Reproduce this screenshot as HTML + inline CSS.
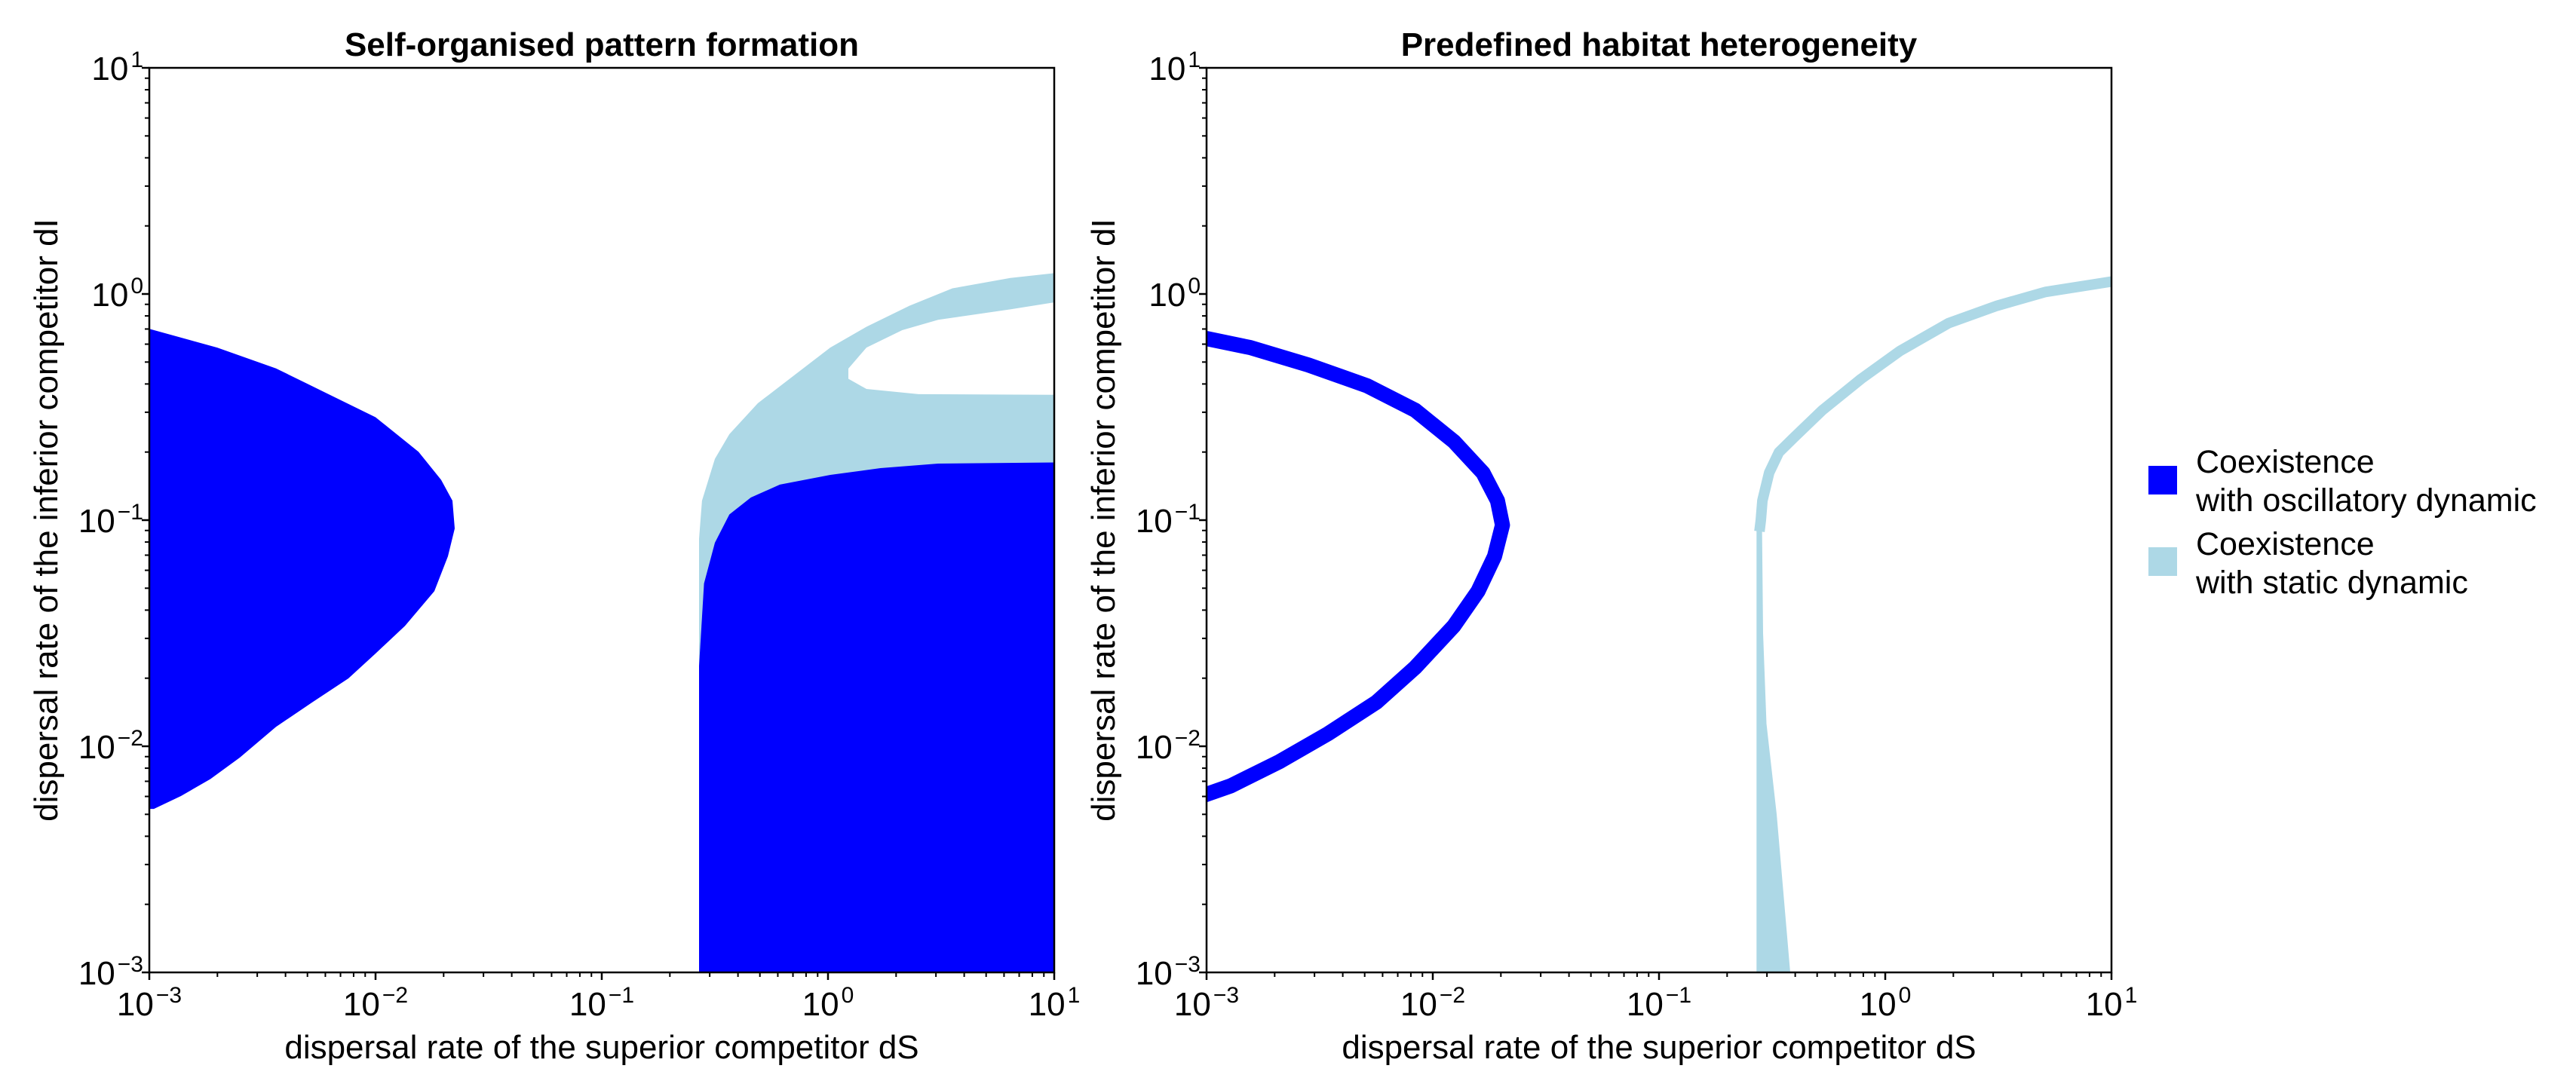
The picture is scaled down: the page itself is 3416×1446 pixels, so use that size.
<!DOCTYPE html>
<html><head><meta charset="utf-8">
<style>
html,body{margin:0;padding:0;background:#fff;}
svg{display:block;font-family:"Liberation Sans",Arial,sans-serif;}
</style></head>
<body>
<svg id="fig" width="3416" height="1446" viewBox="0 0 3416 1446" xmlns="http://www.w3.org/2000/svg">
<defs>
<clipPath id="clip1"><rect x="198" y="90" width="1200" height="1200"/></clipPath>
<clipPath id="clip2"><rect x="1600" y="90" width="1200" height="1200"/></clipPath>
</defs>
<g id="p1"></g>
<g id="p2"></g>
<g id="legend">
  <rect x="2849" y="618" width="38" height="38" fill="#0000ff"/>
  <text x="2912" y="627" font-size="43">Coexistence</text>
  <text x="2912" y="678" font-size="43">with oscillatory dynamic</text>
  <rect x="2849" y="726" width="38" height="38" fill="#add8e6"/>
  <text x="2912" y="736" font-size="43">Coexistence</text>
  <text x="2912" y="787" font-size="43">with static dynamic</text>
</g>
</svg>
<script>
// ---- data (log10 values) ----
const tickExps = [-3,-2,-1,0,1];
// Panel 1: oscillatory region (left lobe) boundary: log dS, log dI
const lobeDS = [-3,-2.70,-2.44,-2.22,-2.00,-1.81,-1.71,-1.66,-1.65,-1.68,-1.74,-1.87,-2.00,-2.12,-2.28,-2.44,-2.60,-2.73,-2.86,-2.98,-3];
const lobeDI = [-0.154,-0.237,-0.329,-0.437,-0.545,-0.698,-0.822,-0.914,-1.037,-1.16,-1.314,-1.468,-1.59,-1.70,-1.806,-1.914,-2.05,-2.145,-2.22,-2.277,-2.277];
// Panel 1: oscillatory right region top boundary
const rightDS = [-0.57,-0.548,-0.50,-0.436,-0.341,-0.213,0.01,0.232,0.487,1.0];
const rightDI = [-1.646,-1.28,-1.10,-0.975,-0.90,-0.843,-0.80,-0.77,-0.75,-0.745];
// Panel 1: static region outer boundary
const staticDS = [-0.57,-0.57,-0.557,-0.50,-0.436,-0.31,-0.15,0.01,0.17,0.36,0.55,0.806,1.0];
const staticDI = [-1.7,-1.083,-0.914,-0.729,-0.62,-0.483,-0.36,-0.237,-0.145,-0.052,0.025,0.071,0.092];
// Panel 1: hole inside static region
const holeDS = [1.0,0.806,0.487,0.328,0.17,0.09,0.09,0.17,0.40,1.0];
const holeDI = [-0.037,-0.068,-0.114,-0.16,-0.237,-0.33,-0.375,-0.42,-0.443,-0.446];
// Panel 2: oscillatory ring centre line
const ringDS = [-3.05,-3,-2.807,-2.55,-2.29,-2.078,-1.907,-1.778,-1.714,-1.692,-1.727,-1.80,-1.907,-2.078,-2.25,-2.464,-2.678,-2.893,-3.05];
const ringDI = [-0.19,-0.197,-0.237,-0.314,-0.406,-0.514,-0.652,-0.791,-0.914,-1.022,-1.16,-1.314,-1.468,-1.652,-1.806,-1.945,-2.068,-2.175,-2.23];
// Panel 2: static curve centre line
const curveDS = [-0.556,-0.55,-0.543,-0.513,-0.47,-0.406,-0.278,-0.106,0.065,0.28,0.494,0.708,1.0,1.05];
const curveDI = [-1.05,-1.0,-0.914,-0.79,-0.70,-0.637,-0.514,-0.375,-0.252,-0.129,-0.052,0.009,0.055,0.058];
// Panel 2: static spike
const spikeDS = [-0.569,-0.569,-0.545,-0.54,-0.525,-0.48,-0.42];
const spikeDI = [-3,-1.0,-1.0,-1.5,-1.9,-2.3,-3];

const NS="http://www.w3.org/2000/svg";
function mk(tag,attrs,parent){const e=document.createElementNS(NS,tag);for(const k in attrs)e.setAttribute(k,attrs[k]);parent.appendChild(e);return e;}
function axes(x0){
  const sx=v=>x0+(v+3)*300;
  const sy=v=>1290-(v+3)*300;
  return {sx,sy};
}
function pts(xs,ys,ax){return xs.map((v,i)=>ax.sx(v).toFixed(1)+','+ax.sy(ys[i]).toFixed(1)).join(' ');}

function frame(g,x0,title){
  const ax=axes(x0);
  const cx=x0+600;
  const t=mk('text',{x:cx,y:74,'font-size':44,'font-weight':'bold','text-anchor':'middle'},g);
  
  
  t.textContent=title;
  const xl=mk('text',{x:cx,y:1404,'font-size':44,'text-anchor':'middle'},g);
  
  
  xl.textContent='dispersal rate of the superior competitor dS';
  const yl=mk('text',{x:0,y:0,'font-size':44,'text-anchor':'middle',transform:`translate(${x0-122},690) rotate(-90)`},g);
  
  
  yl.textContent='dispersal rate of the inferior competitor dI';
  const box=mk('rect',{x:x0,y:90,width:1200,height:1200,fill:'none',stroke:'#000','stroke-width':2.5},g);
  
  
  tickExps.forEach(e=>{
    const X=ax.sx(e),Y=ax.sy(e);
    const tx=mk('line',{x1:X,y1:1290,x2:X,y2:1300,stroke:'#000','stroke-width':2.5},g);
    
    
    const ty=mk('line',{x1:x0-10,y1:Y,x2:x0,y2:Y,stroke:'#000','stroke-width':2.5},g);
    
    
    const lx=mk('text',{x:X,y:1347,'font-size':44,'text-anchor':'middle'},g);
    
    
    lx.innerHTML='10<tspan font-size="30" dx="3" dy="-17">'+(e<0?'\u2212'+(-e):e)+'</tspan>';
    const ly=mk('text',{x:x0-8,y:Y+16,'font-size':44,'text-anchor':'end'},g);
    
    
    ly.innerHTML='10<tspan font-size="30" dx="3" dy="-17">'+(e<0?'\u2212'+(-e):e)+'</tspan>';
    if(e<1){for(let m=2;m<=9;m++){
      const v=e+Math.log10(m);
      const mx=mk('line',{x1:ax.sx(v),y1:1290,x2:ax.sx(v),y2:1296,stroke:'#000','stroke-width':2},g);
      
      
      const my=mk('line',{x1:x0-6,y1:ax.sy(v),x2:x0,y2:ax.sy(v),stroke:'#000','stroke-width':2},g);
      
      
    }}
  });
  return ax;
}

// Panel 1
const g1=document.getElementById('p1');
const a1=axes(198);
const d1=mk('g',{'clip-path':'url(#clip1)'},g1);


const sp=mk('polygon',{points:pts(staticDS.concat([1.05,1.05,-0.57]),staticDI.concat([0.092,-3,-3]),a1),fill:'#add8e6'},d1);


const hp=mk('polygon',{points:pts(holeDS.concat([1.05,1.05]),holeDI.concat([-0.446,-0.037]),a1),fill:'#fff'},d1);


const rp=mk('polygon',{points:pts(rightDS.concat([1.05,1.05,-0.57]),rightDI.concat([-0.745,-3.05,-3.05]),a1),fill:'#0000ff'},d1);


const lp=mk('polygon',{points:pts(lobeDS,lobeDI,a1),fill:'#0000ff'},d1);


frame(g1,198,'Self-organised pattern formation');

// Panel 2
const g2=document.getElementById('p2');
const a2=axes(1600);
const d2=mk('g',{'clip-path':'url(#clip2)'},g2);


const ring=mk('polyline',{points:pts(ringDS,ringDI,a2),fill:'none',stroke:'#0000ff','stroke-width':20,'stroke-linejoin':'round'},d2);


const spike=mk('polygon',{points:pts(spikeDS,spikeDI,a2),fill:'#add8e6'},d2);


const curve=mk('polyline',{points:pts(curveDS,curveDI,a2),fill:'none',stroke:'#add8e6','stroke-width':14,'stroke-linejoin':'round'},d2);


frame(g2,1600,'Predefined habitat heterogeneity');
</script>
</body></html>
